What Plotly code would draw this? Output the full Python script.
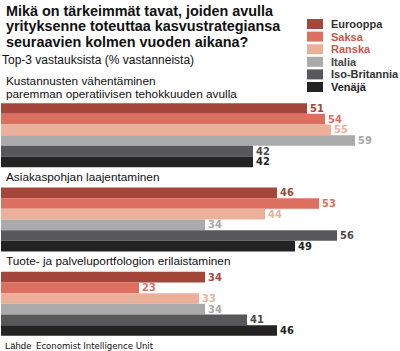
import plotly.graph_objects as go

categories = ["Kustannusten vähentäminen<br>paremman operatiivisen tehokkuuden avulla",
              "Asiakaspohjan laajentaminen",
              "Tuote- ja palveluportfologion erilaistaminen"]
series_names = ["Eurooppa", "Saksa", "Ranska", "Italia", "Iso-Britannia", "Venäjä"]
eurooppa = [51, 46, 34]
saksa = [54, 53, 23]
ranska = [55, 44, 33]
italia = [59, 34, 34]
iso_britannia = [42, 56, 41]
venaja = [42, 49, 46]
series_values = [eurooppa, saksa, ranska, italia, iso_britannia, venaja]
title_lines = ["Mikä on tärkeimmät tavat, joiden avulla",
               "yrityksenne toteuttaa kasvustrategiansa",
               "seuraavien kolmen vuoden aikana?"]
subtitle = "Top-3 vastauksista (% vastanneista)"

bar_colors = ["#a5463b", "#dc6f5f", "#ecb09a", "#aaaaab", "#58585a", "#232323"]
label_colors = ["#a5463b", "#dc6f5f", "#ecb09a", "#a8a8a8", "#4a4a4c", "#232323"]
legend_text_colors = ["#333333", "#d0554a", "#d0554a", "#444444", "#333333", "#222222"]

W, H = 400, 351
ML, MR, MT, MB = 1, 0, 93, 5
PW, PH = W - ML - MR, H - MT - MB

def px(x):
    return (x - ML) / PW

def py(y):
    return 1 - (y - MT) / PH

fig = go.Figure()
idx = list(range(len(categories)))
for name, vals, c, lc in zip(series_names, series_values, bar_colors, label_colors):
    fig.add_trace(go.Bar(
        y=idx, x=vals, orientation="h", name=name,
        marker=dict(color=c, line=dict(width=0)),
        text=[str(v) for v in vals], textposition="outside",
        textfont=dict(family="DejaVu Sans Condensed", size=11, color=lc, weight="bold"),
        constraintext="none", cliponaxis=False, showlegend=False,
        hoverinfo="skip",
    ))

annotations = []
# title (one annotation per line for tight line spacing)
for i, line in enumerate(title_lines):
    annotations.append(dict(
        x=px(4), y=py(11 + i * 15.5), xref="paper", yref="paper",
        xanchor="left", yanchor="middle", showarrow=False,
        text="<b>" + line + "</b>",
        font=dict(family="Liberation Sans", size=14.4, color="#111111")))
annotations.append(dict(
    x=px(0), y=py(60), xref="paper", yref="paper", xanchor="left", yanchor="middle",
    showarrow=False, text=subtitle,
    font=dict(family="Liberation Sans", size=12, color="#111111")))

# category labels
cat_px_y = [[80.5, 94.5], [177], [261]]
for cat, ys in zip(categories, cat_px_y):
    for line, yy in zip(cat.split("<br>"), ys):
        annotations.append(dict(
            x=px(4), y=py(yy), xref="paper", yref="paper", xanchor="left", yanchor="middle",
            showarrow=False, text=line,
            font=dict(family="Liberation Sans", size=11.8, color="#111111")))

# legend (manual)
shapes = []
for i, (name, c, tc) in enumerate(zip(series_names, bar_colors, legend_text_colors)):
    yc = 24 + i * 12.6
    shapes.append(dict(type="rect", xref="paper", yref="paper",
                       x0=px(307), x1=px(323), y0=py(yc - 5), y1=py(yc + 5),
                       fillcolor=c, line=dict(width=0)))
    annotations.append(dict(
        x=px(329), y=py(yc), xref="paper", yref="paper", xanchor="left", yanchor="middle",
        showarrow=False, text="<b>" + name + "</b>",
        font=dict(family="Liberation Sans", size=11, color=tc)))

# source
annotations.append(dict(
    x=px(3), y=py(345.5), xref="paper", yref="paper", xanchor="left", yanchor="middle",
    showarrow=False, text="Lähde",
    font=dict(family="Liberation Sans", size=9.5, color="#111111")))
annotations.append(dict(
    x=px(34), y=py(345.5), xref="paper", yref="paper", xanchor="left", yanchor="middle",
    showarrow=False, text="Economist Intelligence Unit",
    font=dict(family="DejaVu Sans Condensed", size=9.5, color="#111111")))

fig.update_layout(
    width=W, height=H, margin=dict(l=ML, r=MR, t=MT, b=MB, pad=0),
    paper_bgcolor="white", plot_bgcolor="white",
    barmode="group", bargap=0.241, bargroupgap=0,
    xaxis=dict(range=[0, PW / 6.0], visible=False, fixedrange=True),
    yaxis=dict(range=[2.5, -0.5], visible=False, fixedrange=True),
    annotations=annotations, shapes=shapes, showlegend=False,
)

fig.write_html("out.html")
